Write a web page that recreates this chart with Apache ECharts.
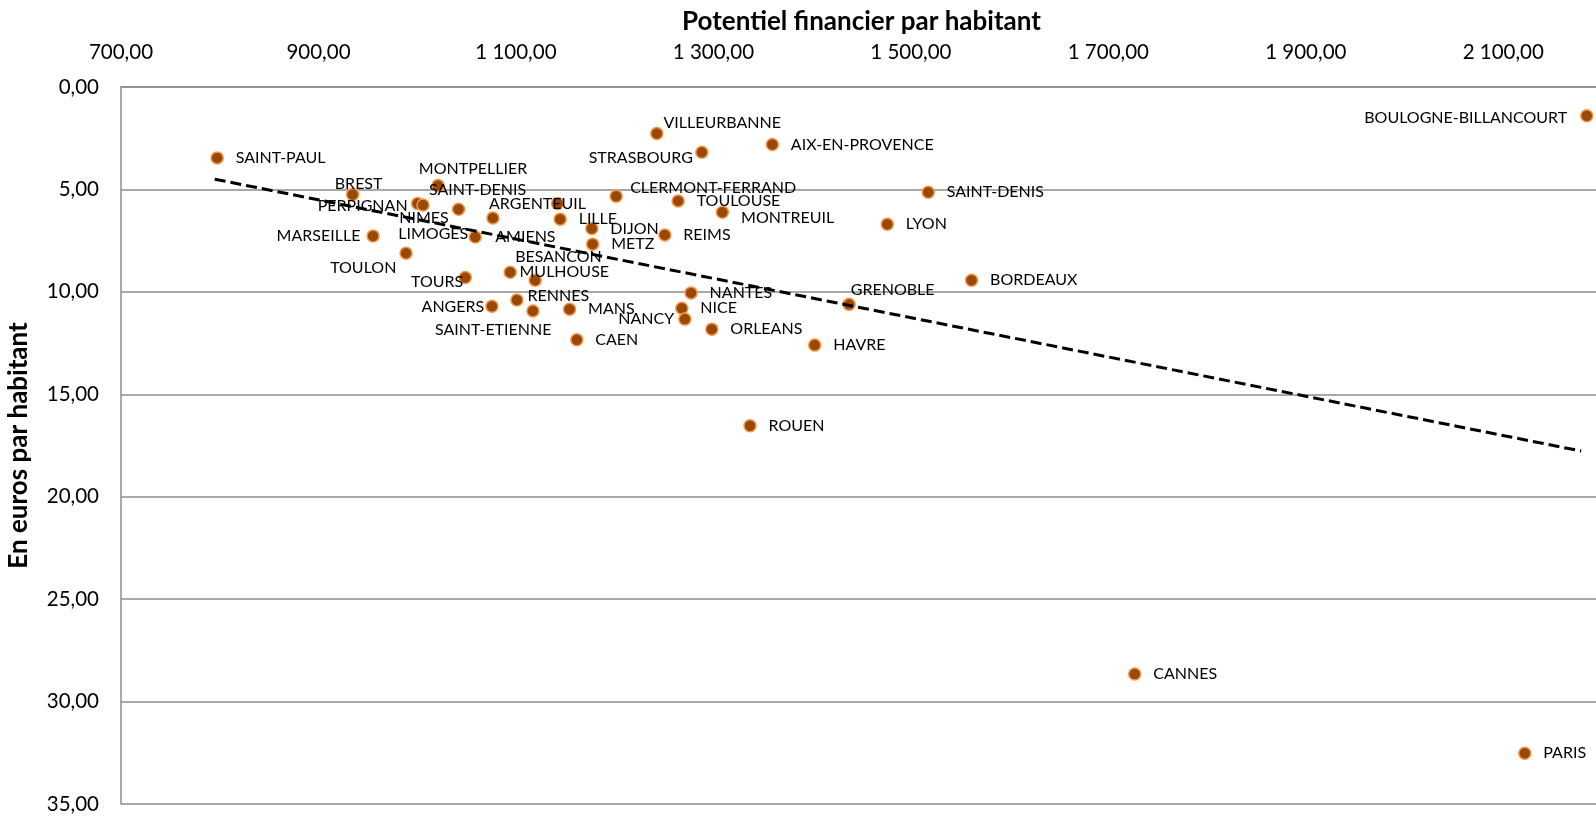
<!DOCTYPE html>
<html>
<head>
<meta charset="utf-8">
<script src="https://cdn.jsdelivr.net/npm/echarts@6/dist/echarts.min.js"></script>
<style>
html,body{margin:0;padding:0;background:#fff;}
#chart{width:1596px;height:819px;}
</style>
</head>
<body>
<div id="chart"></div>
<script>
// ---- Data ----
const cities = [
  "SAINT-PAUL","BREST","MONTPELLIER","SAINT-DENIS","PERPIGNAN","NIMES","ARGENTEUIL","AMIENS",
  "LILLE","DIJON","METZ","MARSEILLE","LIMOGES","TOULON","MULHOUSE","BESANCON","TOURS","ANGERS",
  "RENNES","SAINT-ETIENNE","MANS","CAEN","VILLEURBANNE","STRASBOURG","AIX-EN-PROVENCE",
  "CLERMONT-FERRAND","TOULOUSE","MONTREUIL","SAINT-DENIS","LYON","REIMS","BORDEAUX","GRENOBLE",
  "NANTES","NICE","NANCY","ORLEANS","HAVRE","BOULOGNE-BILLANCOURT","ROUEN","CANNES","PARIS"
];
const potentielFinancier = [
  797.4, 934.6, 1021.1, 1041.9, 1000.4, 1005.9, 1142.1, 1076.7,
  1144.8, 1176.9, 1177.7, 955.3, 1058.8, 988.7, 1094.2, 1119.5, 1048.7, 1075.7,
  1101.0, 1117.2, 1154.3, 1161.7, 1242.7, 1288.3, 1359.7,
  1201.5, 1264.3, 1309.1, 1517.6, 1476.1, 1250.8, 1561.5, 1437.4,
  1277.4, 1268.0, 1271.1, 1298.4, 1402.6, 2184.6, 1337.1, 1726.7, 2121.8
];
const eurosParHabitant = [
  3.46, 5.25, 4.81, 5.97, 5.69, 5.76, 5.69, 6.39,
  6.45, 6.91, 7.67, 7.27, 7.32, 8.11, 9.04, 9.43, 9.30, 10.70,
  10.40, 10.93, 10.85, 12.34, 2.27, 3.19, 2.81,
  5.33, 5.56, 6.11, 5.14, 6.70, 7.22, 9.43, 10.61,
  10.05, 10.80, 11.33, 11.82, 12.60, 1.40, 16.54, 28.65, 32.52
];
// Linear trend line end points
const trendX = [794.9, 2178.9];
const trendY = [4.50, 17.77];

// Axis settings
const xMin = 700, xMax = 2200, xStep = 200;
const yMin = 0, yMax = 35, yStep = 5;
const xTitle = "Potentiel financier par habitant";
const yTitle = "En euros par habitant";

// ---- Label placement (style only): [align, dx, dy] relative to the dot centre ----
const R = ['left', 18.5, 0];
const labelPlace = [
  R, ['center',6,-11], ['center',35,-17], ['center',19,-19.7], ['right',-10,2.4], ['center',1,13], ['center',-20,0], ['left',2.3,19],
  R, R, R, ['right',-12.7,0], ['right',-7,-2.7], ['right',-9.7,14.3], ['left',9.3,0], ['left',-20,-23.3], ['right',-2,4.4], ['right',-7.7,0.7],
  ['left',10.6,-4], ['center',-39.7,19.3], R, R, ['left',6.6,-10.6], ['right',-9,5.3], R,
  ['left',14,-8.7], R, ['left',18.7,5.3], R, R, R, R, ['left',1.7,-15],
  R, R, ['right',-10.7,0], R, R, ['right',-19.6,2.4], R, R, R
];

function fmt(v){
  const s = Number(v).toFixed(2);
  let [i, d] = s.split('.');
  i = i.replace(/\B(?=(\d{3})+(?!\d))/g, ' ');
  return i + ',' + d;
}

const FONT = 'Lato, "Open Sans", sans-serif';
const GRID_COLOR = '#8c8c8c';

const points = cities.map((name, k) => {
  const p = labelPlace[k];
  return {
    name: name,
    value: [potentielFinancier[k], eurosParHabitant[k]],
    label: {
      show: true,
      position: 'inside',
      align: p[0],
      verticalAlign: 'middle',
      offset: [p[1], p[2]],
      formatter: name
    }
  };
});

const chart = echarts.init(document.getElementById('chart'), null, {renderer: 'canvas'});
chart.setOption({
  backgroundColor: '#ffffff',
  animation: false,
  grid: {left: 121, top: 87, right: -6, bottom: 15, outerBoundsMode: 'none', containLabel: false},
  xAxis: {
    type: 'value', position: 'top', min: xMin, max: xMax, interval: xStep,
    name: xTitle, nameLocation: 'middle', nameGap: 52,
    nameTextStyle: {fontFamily: FONT, fontWeight: 'bold', fontSize: 26, color: '#000'},
    axisLine: {show: true, lineStyle: {color: GRID_COLOR, width: 1.5}},
    axisTick: {show: false},
    splitLine: {show: false},
    axisLabel: {
      show: true, margin: 24, showMaxLabel: false, showMinLabel: true,
      fontFamily: FONT, fontSize: 20.5, color: '#000',
      formatter: v => (v > 2100 ? '' : fmt(v))
    }
  },
  yAxis: {
    type: 'value', inverse: true, min: yMin, max: yMax, interval: yStep,
    name: yTitle, nameLocation: 'middle', nameGap: 89, nameRotate: 90,
    nameTextStyle: {fontFamily: FONT, fontWeight: 'bold', fontSize: 26, color: '#000'},
    axisLine: {show: true, lineStyle: {color: GRID_COLOR, width: 1.5}},
    axisTick: {show: false},
    splitLine: {show: true, lineStyle: {color: GRID_COLOR, width: 1.5}},
    axisLabel: {show: true, margin: 22, fontFamily: FONT, fontSize: 20.5, color: '#000', formatter: v => fmt(v)}
  },
  series: [
    {
      type: 'scatter',
      z: 2,
      symbol: 'circle',
      symbolSize: 12,
      itemStyle: {color: '#984807', borderColor: '#F79646', borderWidth: 1.5, opacity: 1},
      label: {fontFamily: FONT, fontSize: 16, color: '#000'},
      emphasis: {disabled: true},
      data: points
    },
    {
      type: 'line',
      z: 3,
      symbol: 'none',
      silent: true,
      lineStyle: {color: '#000', width: 3, type: [11, 5]},
      data: trendX.map((x, k) => [x, trendY[k]])
    }
  ]
});
</script>
</body>
</html>
